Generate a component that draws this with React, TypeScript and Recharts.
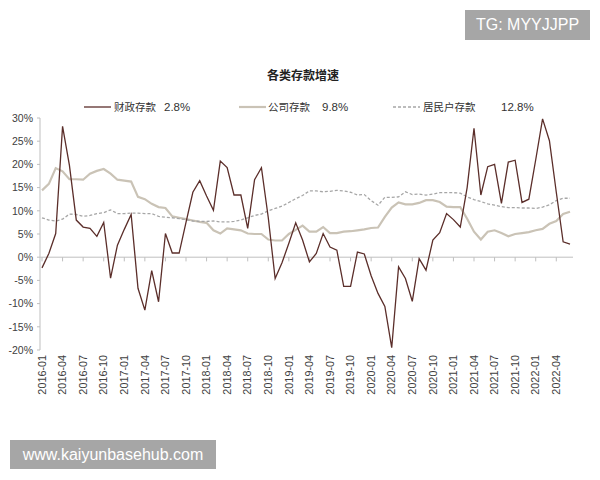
import React from "react";
import { LineChart, Line, XAxis, YAxis, ReferenceLine, Legend } from "recharts";

// Categories: monthly, 2016-01 .. 2022-06
const months: string[] = [];
for (let y = 2016; y <= 2022; y++) {
  for (let m = 1; m <= 12; m++) {
    if (y === 2022 && m > 6) break;
    months.push(`${y}-${String(m).padStart(2, "0")}`);
  }
}

// 财政存款 (%)
const fiscal = [
  -2.3, 0.8, 5.1, 28.2, 19.8, 8.0, 6.5, 6.2, 4.5, 7.5, -4.5, 2.6,
  6.0, 9.2, -6.7, -11.4, -2.9, -9.6, 5.1, 0.9, 0.9, 7.5, 14.0, 16.5,
  13.2, 10.1, 20.7, 19.3, 13.4, 13.4, 6.2, 16.7, 19.3, 8.5, -4.6, -1.2,
  3.0, 7.4, 3.7, -1.0, 0.8, 5.1, 2.2, 1.5, -6.3, -6.3, 1.1, 0.7,
  -4.0, -7.8, -10.6, -19.5, -2.1, -4.6, -9.5, -0.3, -2.8, 3.7, 5.3, 9.4,
  8.1, 6.5, 15.0, 27.8, 13.4, 19.5, 20.0, 11.6, 20.5, 20.9, 11.8, 12.5,
  21.0, 29.8, 25.1, 14.0, 3.3, 2.8,
];

// 公司存款 (%)
const corporate = [
  14.4, 15.8, 19.2, 18.5, 16.8, 16.8, 16.7, 18.0, 18.6, 19.0, 18.0, 16.7,
  16.5, 16.3, 13.0, 12.5, 11.5, 10.8, 10.6, 8.8, 8.5, 8.2, 7.9, 7.6,
  7.4, 5.8, 5.1, 6.2, 6.0, 5.8, 5.1, 5.0, 5.0, 3.8, 3.6, 3.6,
  5.0, 5.9, 6.8, 5.5, 5.5, 6.5, 5.2, 5.2, 5.5, 5.6, 5.8, 6.0,
  6.3, 6.4, 8.7, 10.7, 11.8, 11.4, 11.4, 11.7, 12.3, 12.3, 11.9, 10.9,
  10.8, 10.8, 8.3, 5.5, 3.8, 5.5, 5.8, 5.2, 4.5, 5.0, 5.2, 5.4,
  5.8, 6.1, 7.2, 7.8, 9.3, 9.8,
];

// 居民户存款 (%)
const household = [
  8.5, 8.0, 7.8, 8.2, 9.3, 9.2, 8.8, 9.0, 9.4, 9.6, 10.2, 9.4,
  9.4, 9.5, 9.5, 9.4, 9.4, 8.8, 8.6, 8.5, 8.3, 8.1, 7.8, 7.7,
  7.7, 7.8, 7.6, 7.6, 7.7, 8.0, 8.5, 9.0, 9.3, 10.0, 10.5, 11.0,
  11.8, 12.6, 13.3, 14.3, 14.3, 14.1, 14.2, 14.4, 14.3, 14.0, 13.4, 13.5,
  12.2, 11.2, 12.9, 12.9, 13.0, 14.1, 13.5, 13.6, 13.4, 13.6, 13.9, 13.9,
  13.9, 13.8, 13.0, 12.4, 12.0, 11.5, 11.2, 10.9, 10.7, 10.7, 10.6, 10.6,
  10.5, 10.8, 11.3, 12.2, 12.7, 12.7,
];

const seriesNames = ["财政存款", "公司存款", "居民户存款"];
const latestLabels = ["2.8%", "9.8%", "12.8%"];
const tickMonths = months.filter((_, i) => i % 3 === 0);
const yTicks = [-20, -15, -10, -5, 0, 5, 10, 15, 20, 25, 30];
const title = "各类存款增速";

const data = months.map((m, i) => ({
  month: m,
  fiscal: fiscal[i],
  corporate: corporate[i],
  household: household[i],
}));

const LATIN = "'Liberation Sans', Arial, sans-serif";
const CJK = "'Noto Sans CJK SC', 'Liberation Sans', sans-serif";
const AXIS = "#bfbfbf";
const C_FISCAL = "#5b2e2a";
const C_CORP = "#cac3b6";
const C_HOUSE = "#a6a6a6";

const XTick = (props: any) => {
  const { x, y, payload } = props;
  return (
    <text
      x={x}
      y={y}
      transform={`rotate(-90 ${x} ${y})`}
      textAnchor="end"
      dy="0.35em"
      fontSize={10.8}
      fontFamily={LATIN}
      fill="#404040"
    >
      {payload.value}
    </text>
  );
};

const LegendContent = () => {
  const items = [
    { lineLeft: 84, textLeft: 114, valLeft: 164, color: C_FISCAL, w: 1.3, dash: undefined as string | undefined },
    { lineLeft: 239, textLeft: 268, valLeft: 322, color: C_CORP, w: 2.2, dash: undefined },
    { lineLeft: 393, textLeft: 423, valLeft: 501, color: C_HOUSE, w: 1.3, dash: "3 2" },
  ];
  return (
    <div style={{ position: "relative", width: 600, height: 20 }}>
      {items.map((it, i) => (
        <React.Fragment key={i}>
          <svg style={{ position: "absolute", left: it.lineLeft, top: 0 }} width={28} height={20}>
            <line x1={0} y1={10} x2={27} y2={10} stroke={it.color} strokeWidth={it.w} strokeDasharray={it.dash} />
          </svg>
          <span style={{ position: "absolute", left: it.textLeft, top: 2, fontSize: 10.5, fontFamily: CJK, color: "#333", lineHeight: "16px", whiteSpace: "nowrap" }}>
            {seriesNames[i]}
          </span>
          <span style={{ position: "absolute", left: it.valLeft, top: 2, fontSize: 11.5, fontFamily: LATIN, color: "#333", lineHeight: "16px", whiteSpace: "nowrap" }}>
            {latestLabels[i]}
          </span>
        </React.Fragment>
      ))}
    </div>
  );
};

export default function App() {
  return (
    <div style={{ position: "absolute", left: 0, top: 0, width: 600, height: 480, background: "#fff", overflow: "hidden" }}>
      <div
        style={{
          position: "absolute",
          left: 0,
          top: 66,
          width: 606,
          textAlign: "center",
          fontFamily: CJK,
          fontWeight: 700,
          fontSize: 12,
          color: "#222",
          lineHeight: "18px",
        }}
      >
        {title}
      </div>
      <LineChart
        width={600}
        height={480}
        data={data}
        margin={{ top: 98, right: 27, bottom: 70, left: 0 }}
      >
        <XAxis
          dataKey="month"
          ticks={tickMonths}
          interval={0}
          axisLine={false}
          tickLine={false}
          tickSize={3}
          tickMargin={2}
          height={60}
          padding={{ left: 2, right: 3 }}
          tick={<XTick />}
        />
        <YAxis
          type="number"
          domain={[-20, 30]}
          ticks={yTicks}
          interval={0}
          width={40}
          tickFormatter={(v: number) => `${v}%`}
          axisLine={{ stroke: AXIS }}
          tickLine={{ stroke: AXIS }}
          tickSize={3}
          tickMargin={4}
          tick={{ fontSize: 10.5, fontFamily: LATIN, fill: "#404040" }}
        />
        <ReferenceLine y={0} stroke={AXIS} strokeWidth={1} />
        {tickMonths.map((m) => (
          <ReferenceLine
            key={m}
            segment={[
              { x: m, y: 0 },
              { x: m, y: -0.9 },
            ]}
            stroke={AXIS}
            strokeWidth={1}
          />
        ))}
        <Legend
          verticalAlign="top"
          content={<LegendContent />}
          wrapperStyle={{ position: "absolute", top: 97, left: 0, width: 600, height: 20 }}
        />
        <Line
          type="linear"
          dataKey="corporate"
          name={seriesNames[1]}
          stroke={C_CORP}
          strokeWidth={2.2}
          dot={false}
          activeDot={false}
          isAnimationActive={false}
        />
        <Line
          type="linear"
          dataKey="household"
          name={seriesNames[2]}
          stroke={C_HOUSE}
          strokeWidth={1.3}
          strokeDasharray="3 2"
          dot={false}
          activeDot={false}
          isAnimationActive={false}
        />
        <Line
          type="linear"
          dataKey="fiscal"
          name={seriesNames[0]}
          stroke={C_FISCAL}
          strokeWidth={1.3}
          dot={false}
          activeDot={false}
          isAnimationActive={false}
        />
      </LineChart>
      <div
        style={{
          position: "absolute",
          left: 465,
          top: 10,
          width: 125,
          height: 30,
          background: "#a6a6a6",
          color: "#fff",
          fontFamily: LATIN,
          fontSize: 16,
          lineHeight: "30px",
          textAlign: "center",
        }}
      >
        TG: MYYJJPP
      </div>
      <div
        style={{
          position: "absolute",
          left: 10,
          top: 440,
          width: 206,
          height: 29,
          background: "#a6a6a6",
          color: "#fff",
          fontFamily: LATIN,
          fontSize: 16,
          lineHeight: "29px",
          textAlign: "center",
        }}
      >
        www.kaiyunbasehub.com
      </div>
    </div>
  );
}
